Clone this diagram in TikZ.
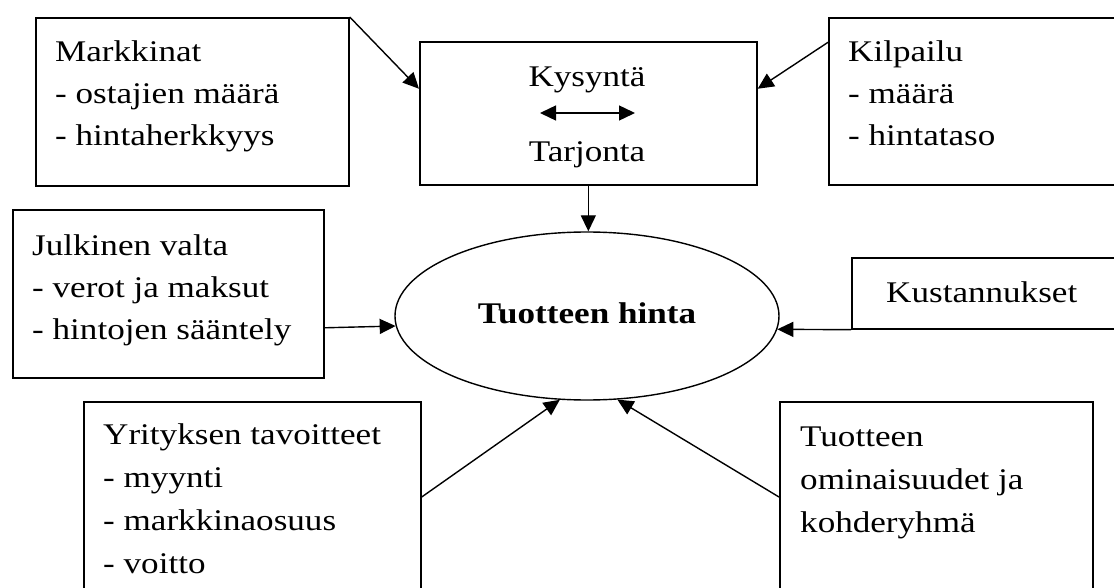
\documentclass[tikz,border=0pt]{standalone}
\usepackage{fontspec}
\setmainfont{Liberation Serif}[FakeStretch=1.17]
\usetikzlibrary{arrows.meta,calc,shapes.geometric}

\begin{document}
\begin{tikzpicture}[x=1pt,y=-1pt,
  box/.style={draw,line width=1.7pt,rectangle,inner sep=0pt,anchor=north west},
  % multi-line labels are placed by the baseline of their last line
  lbl/.style={anchor=base west,inner sep=0pt,font=\fontsize{30}{42}\selectfont,align=left},
  ctr/.style={anchor=base,inner sep=0pt,font=\fontsize{30}{42}\selectfont},
  arr/.style={line width=1.4pt,-{Triangle[length=16pt,width=15pt]}},
  darr/.style={line width=1.4pt,{Triangle[length=16pt,width=15pt]}-{Triangle[length=16pt,width=15pt]}}]

\useasboundingbox (0,0) rectangle (1114,588);
\clip (0,0) rectangle (1114,588);

% boxes
\node[box,minimum width=313pt,minimum height=168pt] (mk) at (35,17) {};
\node[box,minimum width=337pt,minimum height=143pt] (ks) at (419,41) {};
\node[box,minimum width=320pt,minimum height=167pt] (kp) at (828,17) {};
\node[box,minimum width=311pt,minimum height=168pt] (jv) at (12,209) {};
\node[box,minimum width=290pt,minimum height=71pt] (ku) at (851,257) {};
\node[box,minimum width=337pt,minimum height=220pt] (yr) at (83,401) {};
\node[box,minimum width=313pt,minimum height=220pt] (tu) at (779,401) {};

% central ellipse
\node[draw,line width=1.4pt,ellipse,minimum width=384pt,minimum height=168pt,inner sep=0pt] (e) at (587,316) {};
\node[ctr,font=\fontsize{30}{42}\selectfont\bfseries] (eh) at (587,323) {Tuotteen hinta};

% box texts
\node[lbl] (mkt) at (55,146) {Markkinat\\- ostajien määrä\\- hintaherkkyys};
\node[ctr] (kst) at (587,87) {Kysyntä};
\node[ctr] (kstt) at (587,162) {Tarjonta};
\node[lbl] (kpt) at (848,146) {Kilpailu\\- määrä\\- hintataso};
\node[lbl] (jvt) at (32,339) {Julkinen valta\\- verot ja maksut\\- hintojen sääntely};
\node[lbl] (kut) at (886,302) {Kustannukset};
\node[lbl,font=\fontsize{30}{42.7}\selectfont] (yrt) at (103,573) {Yrityksen tavoitteet\\- myynti\\- markkinaosuus\\- voitto};
\node[lbl,font=\fontsize{30}{43}\selectfont] (tut) at (800,532) {Tuotteen\\ominaisuudet ja\\kohderyhmä};

% double arrow between demand and supply
\coordinate (da) at (540,113);
\coordinate (db) at (635,113);
\draw[darr] (da) -- (db);

% connectors
\draw[arr] (mk.north east) -- ($(ks.north west)!0.33!(ks.south west)$);
\draw[arr] ($(kp.north west)!0.15!(kp.south west)$) -- ($(ks.north east)!0.33!(ks.south east)$);
\draw[arr] (ks.south) -- (ks.south |- e.north);
\draw[arr] ($(jv.north east)!0.70!(jv.south east)$) -- (e.183);
\draw[arr] (ku.south west) -- (e.356.4);
\draw[arr] ([yshift=-96pt]yr.north east) -- (e.252);
\draw[arr] ([yshift=-96pt]tu.north west) -- (e.290);
\end{tikzpicture}
\end{document}
